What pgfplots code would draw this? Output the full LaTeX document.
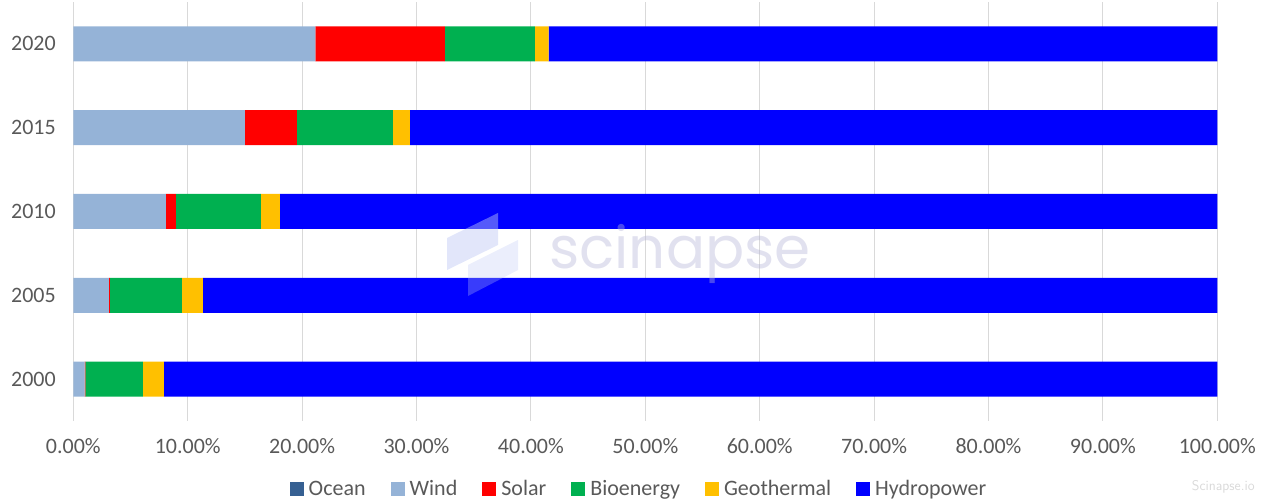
\documentclass[border=0pt]{standalone}
\usepackage{pgfplots}
\pgfplotsset{compat=1.18}
\usepackage{fontspec}
\setmainfont{Carlito}
\newfontfamily\wmfont{Poppins}
\definecolor{txt}{RGB}{89,89,89}
\definecolor{ocean}{RGB}{54,96,146}
\definecolor{wind}{RGB}{149,179,215}
\definecolor{solar}{RGB}{255,0,0}
\definecolor{bio}{RGB}{0,176,80}
\definecolor{geo}{RGB}{255,192,0}
\definecolor{hydro}{RGB}{0,0,255}
\definecolor{gridc}{RGB}{217,217,217}
\definecolor{wm}{RGB}{180,180,215}
\definecolor{wmlogo}{RGB}{190,200,245}
\begin{document}
\begin{tikzpicture}
\path[use as bounding box] (-73.3pt,-79pt) rectangle (1196.7pt,421pt);
\begin{axis}[
  scale only axis, width=1144pt, height=419pt,
  xbar stacked, bar width=35pt,
  xmin=0, xmax=100, ymin=-0.5, ymax=4.5,
  /pgf/number format/assume math mode=true,
  ytick={0,1,2,3,4}, yticklabels={2000,2005,2010,2015,2020},
  xtick={0,10,20,30,40,50,60,70,80,90,100},
  xticklabels={0.00\%,10.00\%,20.00\%,30.00\%,40.00\%,50.00\%,60.00\%,70.00\%,80.00\%,90.00\%,100.00\%},
  axis line style={draw=none}, major tick length=0pt,
  xmajorgrids, grid style={gridc, line width=1pt},
  tick label style={font=\fontsize{22}{22}\selectfont, text=txt},
  xticklabel style={yshift=-14pt},
  yticklabel style={xshift=-14pt},
  legend columns=6,
  legend style={at={(0.4945,-0.1623)}, anchor=center, draw=none, fill=none,
    font=\fontsize{22}{22}\selectfont, text=txt, nodes={inner sep=2pt},
    /tikz/every odd column/.append style={column sep=3pt},
    /tikz/every even column/.append style={column sep=23pt}},
  legend image code/.code={\fill[#1] (0pt,-7pt) rectangle (14pt,7pt);},
  every axis plot/.append style={draw=none},
]
\addplot[fill=ocean] coordinates {(0,0) (0,1) (0,2) (0,3) (0,4)};
\addplot[fill=wind] coordinates {(1.0,0) (3.1,1) (8.09,2) (14.99,3) (21.17,4)};
\addplot[fill=solar] coordinates {(0.05,0) (0.1,1) (0.87,2) (4.55,3) (11.3,4)};
\addplot[fill=bio] coordinates {(5.03,0) (6.28,1) (7.43,2) (8.39,3) (7.87,4)};
\addplot[fill=geo] coordinates {(1.83,0) (1.84,1) (1.66,2) (1.48,3) (1.22,4)};
\addplot[fill=hydro] coordinates {(92.09,0) (88.68,1) (81.95,2) (70.59,3) (58.44,4)};
\legend{Ocean,Wind,Solar,Bioenergy,Geothermal,Hydropower}
\end{axis}
\fill[wmlogo, opacity=0.45] (373.7pt,151pt) -- (424.7pt,176pt) -- (424.7pt,208pt) -- (373.7pt,183pt) -- cycle;
\fill[wmlogo, opacity=0.3] (394.7pt,125pt) -- (444.7pt,151pt) -- (444.7pt,181pt) -- (394.7pt,156pt) -- cycle;
\node[anchor=base, text=wm, text opacity=0.4, font=\fontsize{58}{58}\selectfont\wmfont] at (606.7pt,152pt) {scinapse};
\node[text=gridc, font=\fontsize{14}{14}\selectfont\sffamily] at (1150pt,-66pt) {Scinapse.io};
\end{tikzpicture}
\end{document}
